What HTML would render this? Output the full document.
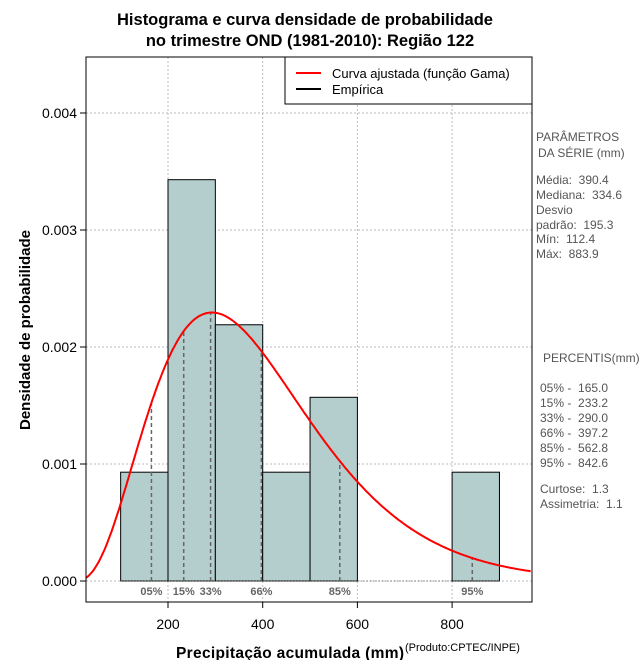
<!DOCTYPE html>
<html><head><meta charset="utf-8"><style>
body{margin:0;background:#fff}
svg{font-family:"Liberation Sans",sans-serif}
text{white-space:pre}
</style></head><body>
<svg id="c" width="640" height="660" viewBox="0 0 640 660">
<text x="305" y="25" text-anchor="middle" font-size="16.5" font-weight="bold">Histograma e curva densidade de probabilidade</text>
<text x="310" y="46" text-anchor="middle" font-size="16.5" font-weight="bold">no trimestre OND (1981-2010): Região 122</text>
<g id="grid"></g><g id="bars"></g><g id="pct"></g><g id="curve"></g><g id="axes"></g>
<rect x="86" y="57" width="446" height="545" fill="none" stroke="#000"/>
<g>
<rect x="285" y="57" width="247" height="47" fill="#fff" stroke="#000"/>
<line x1="296" y1="73" x2="321" y2="73" stroke="#f00" stroke-width="2"/>
<text x="332" y="78" font-size="13">Curva ajustada (função Gama)</text>
<line x1="296" y1="89" x2="321" y2="89" stroke="#000" stroke-width="2"/>
<text x="332" y="94" font-size="13">Empírica</text>
</g>
<text x="30" y="330" transform="rotate(-90 30 330)" text-anchor="middle" font-size="15" font-weight="bold">Densidade de probabilidade</text>
<text x="176" y="658" font-size="15.5" font-weight="bold" textLength="228">Precipitação acumulada (mm)</text>
<text x="405" y="651" font-size="11">(Produto:CPTEC/INPE)</text>
<g font-size="12" fill="#555">
<text x="536" y="141">PARÂMETROS</text><text x="538" y="157">DA SÉRIE (mm)</text>
<text x="536" y="184">Média:  390.4</text><text x="536" y="199">Mediana:  334.6</text>
<text x="536" y="214">Desvio</text><text x="536" y="229">padrão:  195.3</text>
<text x="536" y="243">Mín:  112.4</text><text x="536" y="258">Máx:  883.9</text>
<text x="543" y="362">PERCENTIS(mm)</text>
<text x="540" y="392">05% -  165.0</text><text x="540" y="407">15% -  233.2</text>
<text x="540" y="422">33% -  290.0</text><text x="540" y="437">66% -  397.2</text>
<text x="540" y="452">85% -  562.8</text><text x="540" y="467">95% -  842.6</text>
<text x="540" y="493">Curtose:  1.3</text><text x="540" y="508">Assimetria:  1.1</text>
</g>
</svg>
<script>
const binStarts=[100,200,300,400,500,600,700,800];
const binDensity=[0.00093,0.00343,0.00219,0.00093,0.00157,0,0,0.00093];
const xTicks=[200,400,600,800];
const yTicks=[0,0.001,0.002,0.003,0.004];
const yTickLabels=["0.000","0.001","0.002","0.003","0.004"];
const gammaShape=[3.996];
const gammaScale=[97.7];
const pctValues=[165.0,233.2,290.0,397.2,562.8,842.6];
const pctLabels=["05%","15%","33%","66%","85%","95%"];
const binWidth=100;
const NS="http://www.w3.org/2000/svg";
const X=v=>73.3+v*0.4735, Y=v=>581-v*117000;
function mk(p,t,a){const e=document.createElementNS(NS,t);for(const k in a)e.setAttribute(k,a[k]);document.getElementById(p).appendChild(e);return e;}
function lg(z){const g=[0.99999999999980993,676.5203681218851,-1259.1392167224028,771.32342877765313,-176.61502916214059,12.507343278686905,-0.13857109526572012,9.9843695780195716e-6,1.5056327351493116e-7];z-=1;let x=g[0];const t=z+7.5;for(let i=1;i<9;i++)x+=g[i]/(z+i);return 0.5*Math.log(2*Math.PI)+(z+0.5)*Math.log(t)-t+Math.log(x);}
function dens(x){const k=gammaShape[0],s=gammaScale[0];return Math.exp((k-1)*Math.log(x)-x/s-lg(k)-k*Math.log(s));}
xTicks.forEach(v=>{const e=mk('grid','line',{x1:X(v),x2:X(v),y1:57,y2:602,stroke:'#bbb','stroke-dasharray':'2,2'});

const t=mk('axes','line',{x1:X(v),x2:X(v),y1:602,y2:608,stroke:'#000'});

const l=mk('axes','text',{x:X(v),y:629,'text-anchor':'middle','font-size':14});l.textContent=v;
});
yTicks.forEach((v,i)=>{const e=mk('grid','line',{x1:86,x2:532,y1:Y(v),y2:Y(v),stroke:'#bbb','stroke-dasharray':'2,2'});

const t=mk('axes','line',{x1:80,x2:86,y1:Y(v),y2:Y(v),stroke:'#000'});

const l=mk('axes','text',{x:77,y:Y(v)+5,'text-anchor':'end','font-size':14});l.textContent=yTickLabels[i];
});
binStarts.forEach((b,i)=>{if(binDensity[i]<=0)return;const r=mk('bars','rect',{x:X(b),y:Y(binDensity[i]),width:X(b+binWidth)-X(b),height:Y(0)-Y(binDensity[i]),fill:'#b4cdcd',stroke:'#000','stroke-width':1});
});
const bl=mk('bars','line',{x1:X(100),x2:X(900),y1:Y(0),y2:Y(0),stroke:'#555','stroke-dasharray':'1,2'});

pctValues.forEach((v,i)=>{const l=mk('pct','line',{x1:X(v),x2:X(v),y1:Y(0),y2:Y(dens(v)),stroke:'#666','stroke-width':1.5,'stroke-dasharray':'4,3'});

const t=mk('pct','text',{x:X(v),y:595,'text-anchor':'middle','font-size':11,'font-weight':'bold',fill:'#666'});t.textContent=pctLabels[i];
});
let d='';for(let x=27;x<=968;x+=3){d+=(d?'L':'M')+X(x).toFixed(1)+','+Y(dens(x)).toFixed(1);}
const c=mk('curve','path',{d:d,fill:'none',stroke:'#f00','stroke-width':2});

document.getElementById('curve').setAttribute('clip-path','inset(0)');
</script>
</body></html>
